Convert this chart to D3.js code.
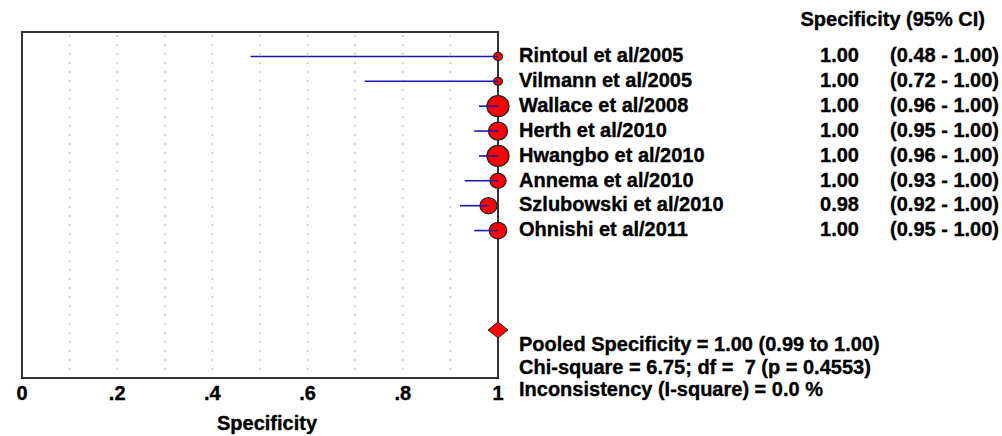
<!DOCTYPE html>
<html>
<head>
<meta charset="utf-8">
<script src="https://cdn.jsdelivr.net/npm/d3@7"></script>
<style>
  html, body { margin: 0; padding: 0; background: #fff; }
  svg text { font-family: "Liberation Sans", Arial, sans-serif; font-weight: bold; fill: #000;
             stroke: #000; stroke-width: 0.35px; white-space: pre; }
</style>
</head>
<body>
<svg id="chart" width="1002" height="436"></svg>
<script>
// ---- data ----
const studies = ["Rintoul et al/2005", "Vilmann et al/2005", "Wallace et al/2008", "Herth et al/2010",
                 "Hwangbo et al/2010", "Annema et al/2010", "Szlubowski et al/2010", "Ohnishi et al/2011"];
const specificity = [1.00, 1.00, 1.00, 1.00, 1.00, 1.00, 0.98, 1.00];
const ciLow  = [0.48, 0.72, 0.96, 0.95, 0.96, 0.93, 0.92, 0.95];
const ciHigh = [1.00, 1.00, 1.00, 1.00, 1.00, 1.00, 1.00, 1.00];
const weights = [20, 18, 120, 90, 120, 64, 72, 76];
const pooled = { est: 1.00, lo: 0.99, hi: 1.00 };
const tickValues = [0, 0.2, 0.4, 0.6, 0.8, 1];
const tickLabels = ["0", ".2", ".4", ".6", ".8", "1"];
const gridValues = [0.1, 0.2, 0.3, 0.4, 0.5, 0.6, 0.7, 0.8, 0.9];
const headerText = "Specificity (95% CI)";
const axisTitle = "Specificity";
const summaryLines = [
  "Pooled Specificity = 1.00 (0.99 to 1.00)",
  "Chi-square = 6.75; df =  7 (p = 0.4553)",
  "Inconsistency (I-square) = 0.0 %"
];

(function () {
// ---- layout ----
const svg = d3.select("#chart");
const pl = 22, pr = 498, pt = 32, pb = 378;
const x = d3.scaleLinear().domain([0, 1]).range([pl, pr]);
const y = d3.scaleBand().domain(d3.range(studies.length)).range([44, 243]);
const yc = i => y(i) + y.bandwidth() / 2;
const rScale = d3.scaleSqrt().domain([0, d3.max(weights)]).range([0, 11]);
const fs = 20;

// gridlines
svg.append("g").selectAll("line").data(gridValues).join("line")
  .attr("x1", d => x(d)).attr("x2", d => x(d))
  .attr("y1", pt + 3).attr("y2", pb - 2)
  .attr("stroke", "#c4c4c4").attr("stroke-width", 1.4)
  .attr("stroke-dasharray", "2,7");

// frame
svg.append("path")
  .attr("d", `M${pl},${pb}V${pt}H${pr}V${pb}Z`)
  .attr("fill", "none").attr("stroke", "#333").attr("stroke-width", 2);

// markers
svg.append("g").selectAll("ellipse").data(studies).join("ellipse")
  .attr("cx", (d, i) => x(specificity[i]))
  .attr("cy", (d, i) => yc(i))
  .attr("rx", (d, i) => Math.max(4.5, rScale(weights[i])))
  .attr("ry", (d, i) => Math.max(3.8, rScale(weights[i]) - 0.5))
  .attr("fill", "#ff0000").attr("stroke", "#222").attr("stroke-width", 1.3);

// CI lines
svg.append("g").selectAll("line").data(studies).join("line")
  .attr("x1", (d, i) => x(ciLow[i])).attr("x2", (d, i) => x(specificity[i]))
  .attr("y1", (d, i) => yc(i)).attr("y2", (d, i) => yc(i))
  .attr("stroke", "#1a1aa8").attr("stroke-width", 1.6);

// pooled diamond
const py = 330, px = x(pooled.est);
svg.append("path")
  .attr("d", `M${px - 10},${py}L${px},${py - 8}L${px + 10},${py}L${px},${py + 8}Z`)
  .attr("fill", "#ff0000").attr("stroke", "#222").attr("stroke-width", 1);

// study labels
const labX = 519, dy = "0.29em";
svg.append("g").selectAll("text").data(studies).join("text")
  .attr("x", labX).attr("y", (d, i) => yc(i)).attr("dy", dy)
  .style("font-size", fs + "px").text(d => d);

// values
svg.append("g").selectAll("text").data(specificity).join("text")
  .attr("x", 859).attr("y", (d, i) => yc(i)).attr("dy", dy)
  .attr("text-anchor", "end").style("font-size", fs + "px").text(d => d3.format(".2f")(d));
svg.append("g").selectAll("text").data(studies).join("text")
  .attr("x", 999).attr("y", (d, i) => yc(i)).attr("dy", dy)
  .attr("text-anchor", "end").style("font-size", fs + "px")
  .text((d, i) => `(${d3.format(".2f")(ciLow[i])} - ${d3.format(".2f")(ciHigh[i])})`);

svg.append("text").attr("x", 985).attr("y", 26)
  .attr("text-anchor", "end").style("font-size", fs + "px").text(headerText);

// summary lines
svg.append("g").selectAll("text").data(summaryLines).join("text")
  .attr("x", labX).attr("y", (d, i) => 351 + i * 22.5)
  .style("font-size", fs + "px").text(d => d);

// x tick labels
svg.append("g").selectAll("text").data(tickValues).join("text")
  .attr("x", d => x(d)).attr("y", 400)
  .attr("text-anchor", "middle").style("font-size", fs + "px")
  .text((d, i) => tickLabels[i]);

svg.append("text").attr("x", 267).attr("y", 430)
  .attr("text-anchor", "middle").style("font-size", fs + "px").text(axisTitle);
})();
</script>
</body>
</html>
